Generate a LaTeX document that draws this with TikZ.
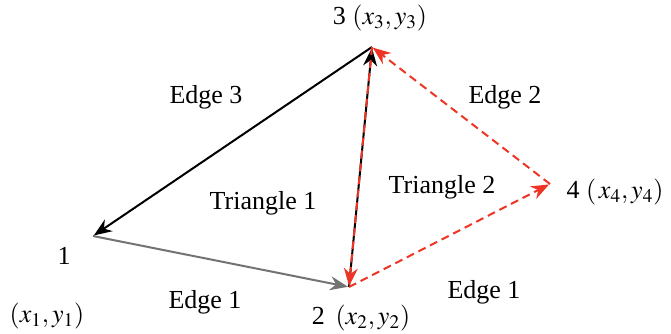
\documentclass[tikz,border=0pt]{standalone}
\usepackage{amsmath}
\usepackage{mathptmx}
\usepackage{fontspec}
\setmainfont{Liberation Serif}
\usepackage{tikz}
\usetikzlibrary{arrows.meta,positioning}
\definecolor{edgered}{RGB}{238,52,36}

\begin{document}
\begin{tikzpicture}[x=0.5pt,y=-0.5pt,>={Stealth[length=9pt,width=7pt]},
      shorten >=0.5pt,line width=1pt,
      font=\fontsize{13}{15}\selectfont,
      lbl/.style={inner sep=0pt},
      solid edge/.style={->,black},
      red edge/.style={->,edgered,dashed,dash pattern=on 4pt off 2.5pt}]
      \useasboundingbox (0,0) rectangle (671,333);

      % vertices of the two triangles
      \coordinate (v1) at (93,236);
      \coordinate (v2) at (349,287);
      \coordinate (v3) at (372,47);
      \coordinate (v4) at (550,184);

      % labels
      \node[lbl] (n3) at (380,18) {3 $(x_3,y_3)$};
      \node[lbl] (n1) at (64,256) {1};
      \node[lbl] (p1) at (47,316) {$(x_1,y_1)$};
      \node[lbl] (n2) at (361,318) {2\, $(x_2,y_2)$};
      \node[lbl] (n4) at (615,192) {4 $(\,x_4,y_4)$};
      \node[lbl] (e1a) at (205,302) {Edge 1};
      \node[lbl] (e1b) at (484,292) {Edge 1};
      \node[lbl] (e2) at (505,97) {Edge 2};
      \node[lbl] (e3) at (206,97) {Edge 3};
      \node[lbl] (t1) at (263,203) {Triangle 1};
      \node[lbl] (t2) at (442,187) {Triangle 2};

      % triangle 1
      \path
        (v1) edge [solid edge,black!55] (v2)
        (v2) edge [solid edge] (v3)
        (v3) edge [solid edge] (v1);

      % triangle 2
      \path
        (v2) edge [red edge] (v4)
        (v4) edge [red edge] (v3)
        (v3) edge [red edge] (v2);
    \end{tikzpicture}
\end{document}
